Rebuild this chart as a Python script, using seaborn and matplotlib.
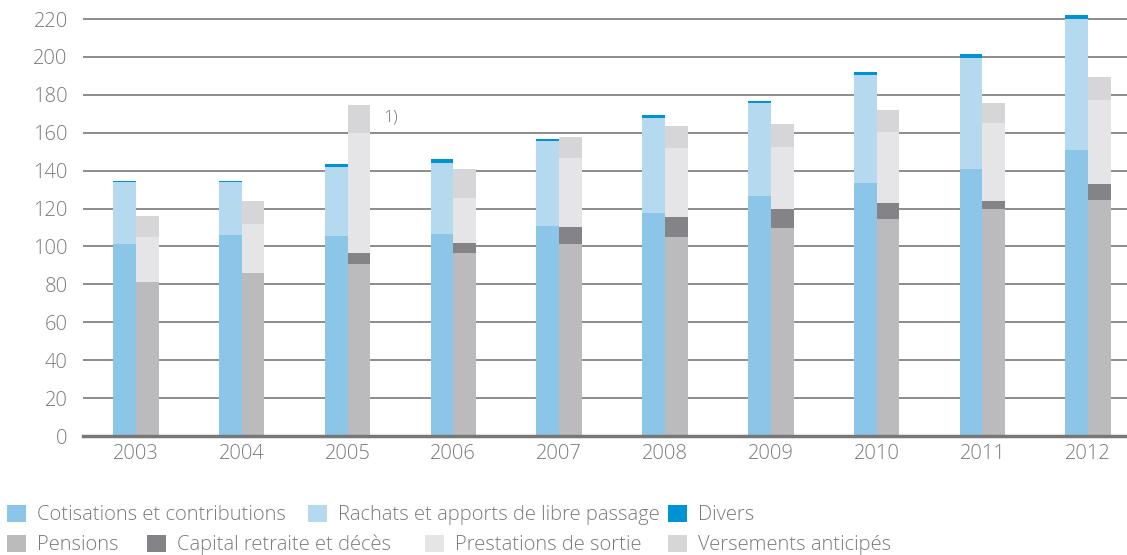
import pandas as pd
import matplotlib.pyplot as plt
from matplotlib.patches import Patch
import seaborn as sns

# --- data (in CHF bn) ---
years = ['2003', '2004', '2005', '2006', '2007', '2008', '2009', '2010', '2011', '2012']

cotisations = [101.5, 106.0, 105.5, 106.5, 111.0, 117.5, 126.5, 133.5, 141.0, 151.0]
rachats = [32.5, 28.0, 36.5, 37.5, 44.5, 50.5, 49.0, 57.0, 58.5, 69.0]
divers = [0.6, 0.6, 1.5, 2.0, 1.0, 1.5, 1.5, 1.5, 2.0, 2.0]

pensions = [81.5, 86.0, 90.8, 96.5, 101.3, 105.0, 109.8, 114.5, 119.8, 124.5]
capital = [0.0, 0.0, 5.8, 5.2, 9.0, 10.6, 10.0, 8.5, 4.2, 8.5]
prestations = [23.5, 25.9, 63.4, 23.8, 36.4, 36.4, 32.7, 37.4, 41.2, 44.3]
versements = [11.0, 12.1, 14.7, 15.3, 11.1, 11.6, 12.1, 11.6, 10.5, 12.1]

labels = {
    'cot': 'Cotisations et contributions',
    'rach': 'Rachats et apports de libre passage',
    'div': 'Divers',
    'pens': 'Pensions',
    'cap': 'Capital retraite et décès',
    'prest': 'Prestations de sortie',
    'vers': 'Versements anticipés',
}
colors = {
    'cot': '#8bc6e9',
    'rach': '#b5daf0',
    'div': '#0093d3',
    'pens': '#bbbbbd',
    'cap': '#848387',
    'prest': '#e5e5e7',
    'vers': '#d6d6d8',
}

# stacking order per side (bottom -> top)
stacks = {
    'in': [('cot', cotisations), ('rach', rachats), ('div', divers)],
    'out': [('pens', pensions), ('cap', capital), ('prest', prestations), ('vers', versements)],
}

# cumulative tops, indexed by depth from the top of each stack
# (depth 0 = whole stack, drawn first; lower layers painted over it)
rows = []
for side, layers in stacks.items():
    running = [0.0] * len(years)
    tops = []
    for key, vals in layers:
        running = [r + v for r, v in zip(running, vals)]
        tops.append((key, running))
    for depth, (key, vals) in enumerate(tops[::-1]):
        for y, top in zip(years, vals):
            rows.append({'year': y, 'side': side, 'series': key, 'depth': depth, 'top': top})
df = pd.DataFrame(rows)

# --- style ---
text_grey = '#7a7a7a'
plt.rcParams['font.family'] = ['Open Sans', 'DejaVu Sans']
plt.rcParams['font.weight'] = 'light'
fs = 14.5

fig = plt.figure(figsize=(11.27, 5.55), dpi=100)
ax = fig.add_axes([83 / 1127, 119 / 555, 1 - 83 / 1127, 426 / 555])

n_depth = max(len(v) for v in stacks.values())
for depth in range(n_depth):
    layer = df[df['depth'] == depth]
    # keep both hue levels present so the pair stays dodged
    for side in ['in', 'out']:
        if side not in layer['side'].values:
            filler = pd.DataFrame({'year': years, 'side': side, 'series': None,
                                   'depth': depth, 'top': 0.0})
            layer = pd.concat([layer, filler], ignore_index=True)
    pal = {}
    for side in ['in', 'out']:
        keys = layer.loc[(layer['side'] == side) & layer['series'].notna(), 'series']
        pal[side] = colors[keys.iloc[0]] if len(keys) else '#ffffff'
    sns.barplot(data=layer, x='year', y='top', hue='side',
                order=years, hue_order=['in', 'out'], palette=pal,
                width=0.43, dodge=True, saturation=1, errorbar=None, linewidth=0,
                legend=False, ax=ax)

ax.set_xlim(-0.5, (1127 - 136) / 105.8)
ax.set_ylim(0, 220 + 9 / 1.895)
ax.set_yticks(range(0, 221, 20))
ax.set_xlabel('')
ax.set_ylabel('')

ax.set_axisbelow(True)
ax.yaxis.grid(True, color='#8c8c8c', linewidth=1.4)
ax.xaxis.grid(False)
for s in ['top', 'right', 'left']:
    ax.spines[s].set_visible(False)
ax.spines['bottom'].set_color('#777777')
ax.spines['bottom'].set_linewidth(2.5)
ax.spines['bottom'].set_zorder(5)
ax.tick_params(axis='both', length=0, labelsize=fs, labelcolor=text_grey)
ax.tick_params(axis='y', pad=11)
ax.tick_params(axis='x', pad=6)

ax.text(2.34, 168, '1)', fontsize=12.5, color=text_grey, va='center', ha='left')

# --- legend: two rows, entries at fixed column positions ---
legend_rows = [
    (515, [('cot', 7), ('rach', 308), ('div', 668)]),
    (545, [('pens', 7), ('cap', 147), ('prest', 425), ('vers', 668)]),
]
for ypix, entries in legend_rows:
    for key, xpix in entries:
        handle = Patch(facecolor=colors[key], edgecolor='none', label=labels[key])
        fig.legend(handles=[handle], loc='center left',
                   bbox_to_anchor=(xpix / 1127, 1 - ypix / 555),
                   frameon=False, borderpad=0, borderaxespad=0,
                   handlelength=0.95, handleheight=0.95, handletextpad=0.55,
                   fontsize=fs, labelcolor=text_grey)

fig.savefig('out.png', dpi=100)
